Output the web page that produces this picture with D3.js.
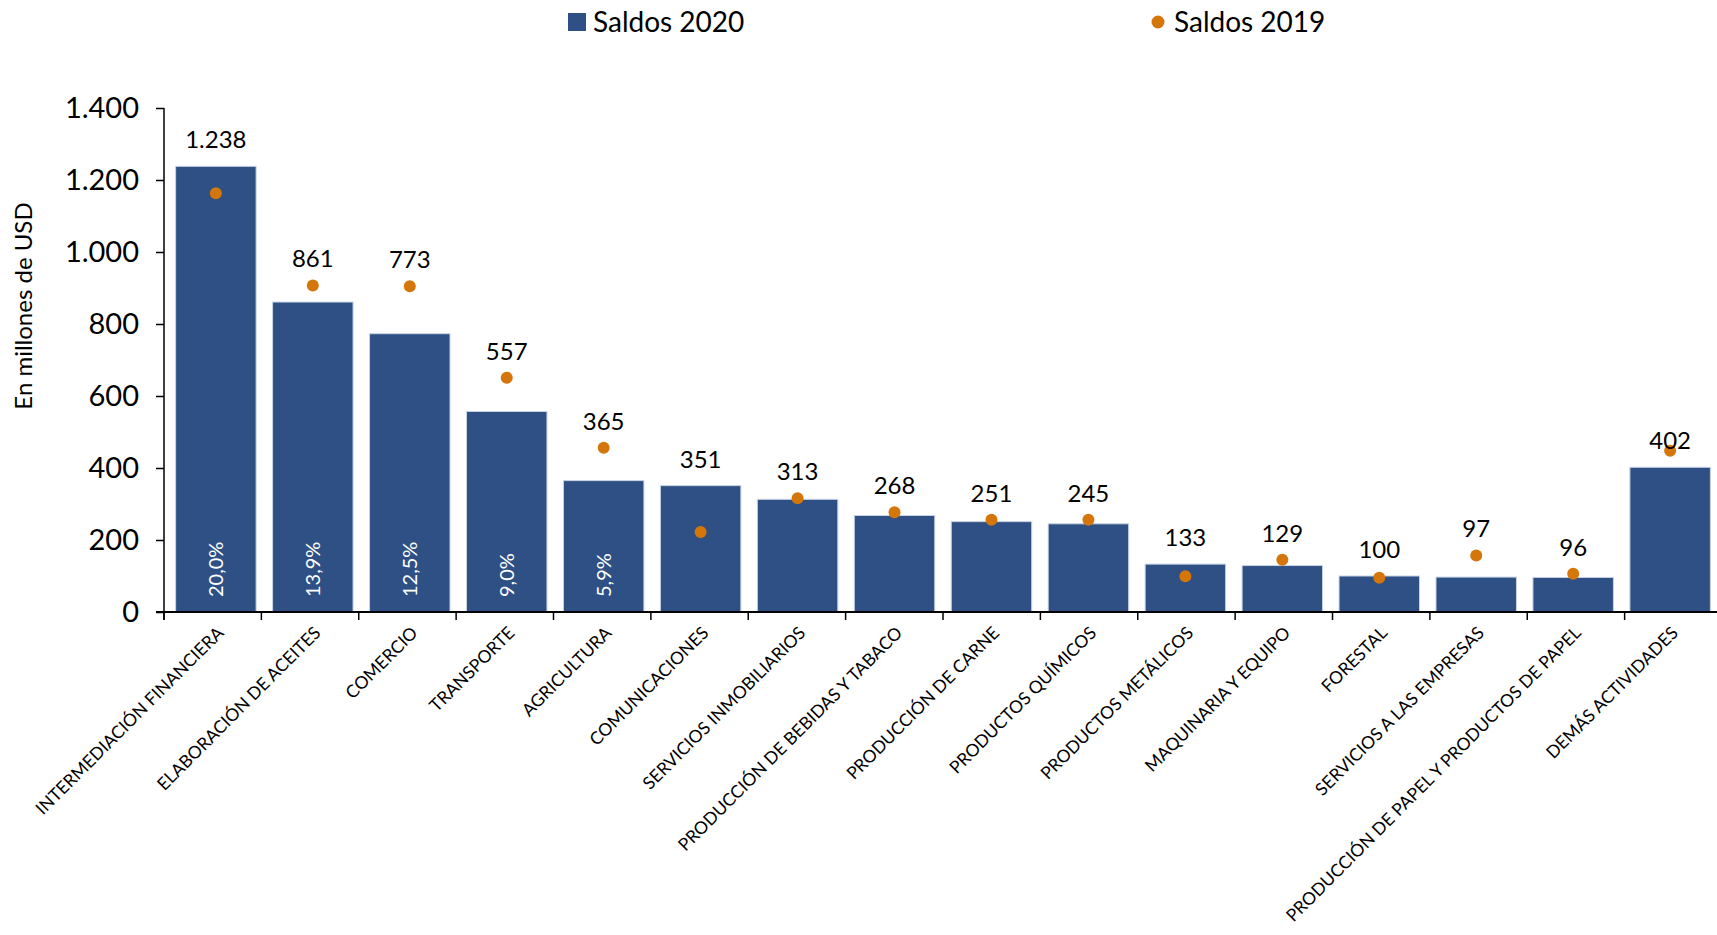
<!DOCTYPE html>
<html lang="es">
<head>
	<meta charset="utf-8">
	<title>Saldos por actividad</title>
	<style type="text/css">
		body { margin: 0; background: #fff; font-family: Lato, "Open Sans", sans-serif; color: #000; }
	</style>
</head>
<body>
	<div id="chart"></div>

	<script src="https://cdnjs.cloudflare.com/ajax/libs/d3/7.8.5/d3.min.js"></script>
	<script type="text/javascript">
		// datos
		var categorias = [
			"INTERMEDIACIÓN FINANCIERA", "ELABORACIÓN DE ACEITES", "COMERCIO", "TRANSPORTE",
			"AGRICULTURA", "COMUNICACIONES", "SERVICIOS INMOBILIARIOS", "PRODUCCIÓN DE BEBIDAS Y TABACO",
			"PRODUCCIÓN DE CARNE", "PRODUCTOS QUÍMICOS", "PRODUCTOS METÁLICOS", "MAQUINARIA Y EQUIPO",
			"FORESTAL", "SERVICIOS A LAS EMPRESAS", "PRODUCCIÓN DE PAPEL Y PRODUCTOS DE PAPEL", "DEMÁS ACTIVIDADES"
		];
		var saldos2020 = [1238, 861, 773, 557, 365, 351, 313, 268, 251, 245, 133, 129, 100, 97, 96, 402];
		var saldos2019 = [1163, 907, 905, 651, 456, 222, 316, 277, 256, 256, 99, 145, 95, 157, 106, 448];
		var participacion = ["20,0%", "13,9%", "12,5%", "9,0%", "5,9%"];
		var yTicks = [0, 200, 400, 600, 800, 1000, 1200, 1400];

		var W = 1717, H = 935;
		var x0 = 164, x1 = 1722, y0 = 612, yTop = 108;

		var fmt = d3.formatLocale({ decimal: ",", thousands: ".", grouping: [3], currency: ["$", ""] }).format(",d");

		var svg = d3.select("#chart").append("svg")
			.attr("width", W)
			.attr("height", H);

		var x = d3.scaleBand()
			.domain(categorias)
			.range([x0, x1])
			.paddingInner(0.17)
			.paddingOuter(0.12);

		var y = d3.scaleLinear()
			.domain([0, 1400])
			.range([y0, yTop]);

		var azul = "#2e5085", naranja = "#d4760a";

		// barras 2020
		svg.selectAll("rect.bar")
			.data(saldos2020)
			.enter().append("rect")
			.attr("class", "bar")
			.attr("x", (d, i) => x(categorias[i]))
			.attr("width", x.bandwidth())
			.attr("y", d => y(d))
			.attr("height", d => y0 - y(d))
			.attr("fill", azul)
			.attr("stroke", "#c8d3e4")
			.attr("stroke-width", 1);

		// participación dentro de las barras
		svg.selectAll("text.pct")
			.data(participacion)
			.enter().append("text")
			.attr("class", "pct")
			.attr("transform", (d, i) => "translate(" + (x(categorias[i]) + x.bandwidth() / 2 + 7) + "," + (y0 - 15) + ") rotate(-90)")
			.attr("fill", "#fff")
			.style("font-size", "20px")
			.text(d => d);

		// puntos 2019
		svg.selectAll("circle.dot")
			.data(saldos2019)
			.enter().append("circle")
			.attr("class", "dot")
			.attr("cx", (d, i) => x(categorias[i]) + x.bandwidth() / 2)
			.attr("cy", d => y(d))
			.attr("r", 6)
			.attr("fill", naranja);

		// etiquetas de valor
		svg.selectAll("text.val")
			.data(saldos2020)
			.enter().append("text")
			.attr("class", "val")
			.attr("x", (d, i) => x(categorias[i]) + x.bandwidth() / 2)
			.attr("y", (d, i) => y(i == 15 ? d : Math.max(d, saldos2019[i])) - 18)
			.attr("text-anchor", "middle")
			.style("font-size", "24px")
			.text(d => fmt(d));

		// eje y
		var yAxis = d3.axisLeft(y)
			.tickValues(yTicks)
			.tickFormat(fmt)
			.tickSize(8)
			.tickPadding(17);

		var gy = svg.append("g")
			.attr("transform", "translate(" + x0 + ",0)")
			.call(yAxis);
		gy.select(".domain").attr("d", "M0," + yTop + "V" + (y0 + 8)).attr("stroke-width", 1.5);
		gy.selectAll(".tick line").attr("stroke-width", 1.5);
		gy.selectAll(".tick text")
			.style("font-family", "Lato, sans-serif")
			.style("font-size", "29px")
			.attr("fill", "#000");

		// eje x
		var step = (x1 - x0) / categorias.length;
		var bordes = d3.range(categorias.length + 1);
		var gx = svg.append("g");
		gx.append("line")
			.attr("x1", x0 - 8).attr("x2", x1)
			.attr("y1", y0).attr("y2", y0)
			.attr("stroke", "#000").attr("stroke-width", 2);
		gx.selectAll("line.tk")
			.data(bordes)
			.enter().append("line")
			.attr("class", "tk")
			.attr("x1", d => x0 + d * step).attr("x2", d => x0 + d * step)
			.attr("y1", y0).attr("y2", y0 + 8)
			.attr("stroke", "#000").attr("stroke-width", 1.5);

		gx.selectAll("text.cat")
			.data(categorias)
			.enter().append("text")
			.attr("class", "cat")
			.attr("transform", d => "translate(" + (x(d) + x.bandwidth() / 2 + 9) + "," + (y0 + 22) + ") rotate(-45)")
			.attr("text-anchor", "end")
			.style("font-size", "17.5px")
			.text(d => d);

		// título eje y
		svg.append("text")
			.attr("transform", "translate(32,306) rotate(-90)")
			.attr("text-anchor", "middle")
			.style("font-size", "24px")
			.text("En millones de USD");

		// leyenda
		var leg = svg.append("g");
		leg.append("rect")
			.attr("x", 568).attr("y", 13).attr("width", 18).attr("height", 18)
			.attr("fill", azul);
		leg.append("text")
			.attr("x", 593).attr("y", 32)
			.style("font-size", "28px")
			.text("Saldos 2020");
		leg.append("circle")
			.attr("cx", 1158).attr("cy", 22).attr("r", 6.5)
			.attr("fill", naranja);
		leg.append("text")
			.attr("x", 1174).attr("y", 32)
			.style("font-size", "28px")
			.text("Saldos 2019");
	</script>
</body>
</html>
